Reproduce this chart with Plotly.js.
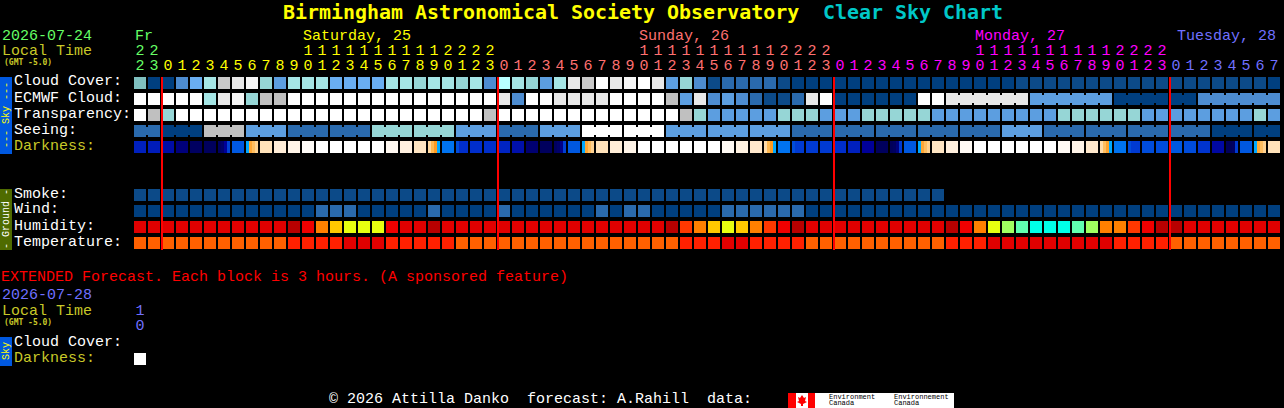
<!DOCTYPE html>
<html><head><meta charset="utf-8">
<script src="https://cdn.plot.ly/plotly-3.0.1.min.js"></script>
<style>html,body{margin:0;padding:0;background:#000;overflow:hidden}</style>
</head><body><div id="chart" style="width:1284px;height:408px"></div>
<script>
const palette = ['#003f7f','#0c4a88','#2a6aad','#4d8cd0','#5c9ee0','#6aaef2','#96d6d6','#7fc0c0','#a5e5e5','#b8ffff',
 '#c0c0c0','#cacaca','#e8e8e8','#f6f6f6','#ffffff','#e00000','#b80000','#f00000','#ff3800','#ff8000',
 '#ffc800','#e8ff10','#a0ff60','#60ffb0','#00ffe8','#ff2000','#ff6000'];

const hours = [22,23,0,1,2,3,4,5,6,7,8,9,10,11,12,13,14,15,16,17,18,19,20,21,22,23,
 0,1,2,3,4,5,6,7,8,9,10,11,12,13,14,15,16,17,18,19,20,21,22,23,
 0,1,2,3,4,5,6,7,8,9,10,11,12,13,14,15,16,17,18,19,20,21,22,23,
 0,1,2,3,4,5,6,7];
const dayOfColumn = [0,0,...Array(24).fill(1),...Array(24).fill(2),...Array(24).fill(3),...Array(8).fill(4)];
const dayColors = ['#66ff66','#ffff00','#ff7070','#ff00ff','#7070ff'];
const dayLabels = [['Fr',134,0],['Saturday, 25',302,1],['Sunday, 26',638,2],['Monday, 27',974,3],['Tuesday, 28',1176,4]];

const cloudCover = [7,0,0,3,5,8,11,12,13,6,4,8,8,8,5,5,5,5,8,8,6,8,8,6,8,3,9,8,6,4,8,12,11,14,12,13,14,12,4,6,3,1,2,2,2,2,1,0,0,0,0,0,
 0,0,0,0,0,0,0,0,0,0,0,1,1,1,1,1,1,1,1,1,1,1,1,1,1,1,1,1,1,0];
const ecmwfCloud = [14,14,14,14,14,8,12,13,6,10,10,14,14,14,14,14,14,14,14,14,14,14,14,14,14,14,12,3,14,14,12,12,12,12,14,14,14,14,10,4,12,3,4,3,2,1,1,2,12,14,0,0,
 0,0,0,0,14,14,12,12,12,12,12,12,4,4,4,4,4,4,0,0,0,0,0,0,3,3,3,3,3,3];
const transparency = [14,10,6,14,14,14,14,14,14,14,14,14,14,14,14,14,14,14,14,14,14,14,14,14,14,10,14,14,14,14,14,14,14,14,14,14,14,14,14,10,6,4,4,4,4,4,6,6,6,4,4,4,
 6,6,6,6,6,4,4,4,4,4,4,4,4,4,6,6,6,6,6,6,4,4,4,4,4,4,4,4,6,4];
const seeing = [2,2,0,0,0,10,10,10,4,4,4,2,2,2,2,2,2,6,6,6,6,6,6,4,4,4,2,2,2,4,4,4,14,14,14,14,14,14,4,4,4,4,4,4,4,4,4,2,2,2,2,2,
 2,2,2,2,2,2,2,2,2,2,4,4,4,2,2,2,2,2,2,2,2,2,2,2,2,0,0,0,0,0];
const smoke = [...Array(58).fill(1)];
const wind = [0,0,0,0,0,0,0,0,0,0,0,0,0,2,2,2,0,0,0,0,0,2,0,0,0,0,2,0,0,0,0,0,0,2,0,2,2,0,0,0,0,0,2,2,2,2,2,2,0,0,0,0,
 0,0,0,0,0,0,0,0,0,0,0,0,0,0,0,0,0,0,0,0,0,0,0,0,0,0,0,0,0,0];
const humidity = [15,15,15,15,15,15,15,15,15,15,15,16,17,19,20,21,21,21,17,15,15,16,15,15,15,15,15,15,15,15,15,15,15,15,15,15,15,15,16,18,19,20,21,20,19,18,17,16,15,15,15,15,
 15,15,15,15,15,15,16,17,19,21,22,23,24,24,24,23,22,19,19,18,17,16,16,15,15,15,15,15,15,15];
const temperature = [26,26,26,26,26,26,26,26,26,26,26,25,25,25,25,15,15,15,25,25,25,25,25,26,26,26,26,26,26,26,26,26,26,26,26,26,26,26,26,25,25,25,15,15,25,25,25,25,26,26,26,26,
 26,26,26,26,26,26,25,25,25,15,15,15,15,15,15,15,15,15,25,25,25,25,26,26,26,26,26,26,26,26];
const extendedDarkness = [14];

// darkness level per column; twilight columns hold four readings left to right
const darkness = [.28,.27,.23,.15,.1,.09,[.1,.12,.2,.34],.38,[.47,.56,.62,.68],.76,.84,.9,.97,1,
 1,1,1,1,.94,.87,.78,[.7,.6,.53,.47],.42,[.36,.31,.31,.31],.31,.31,.29,.24,.13,.09,[.1,.12,.17,.34],.38,[.47,.56,.62,.68],.76,.84,.9,
 1,1,1,1,1,1,.95,.88,.8,[.72,.6,.53,.47],.42,[.36,.33,.33,.33],.33,.33,.31,.28,.2,.09,[.08,.1,.15,.33],.38,[.47,.56,.62,.68],.78,.86,
 .95,1,1,1,1,1,1,.95,.9,.8,[.72,.62,.55,.47],.42,[.36,.33,.33,.33],.36,.36,.38,.36,.32,.22,[.08,.08,.1,.33],.38,[.47,.56,.62,.68],.76];
const darknessScale = [[0,'#000040'],[.1,'#000060'],[.2,'#000098'],[.3,'#0028c8'],[.38,'#0058e0'],[.44,'#0080f8'],[.47,'#00a8ff'],[.5,'#00e0ff'],
 [.505,'#ff9010'],[.6,'#ffb850'],[.7,'#ffd8a0'],[.8,'#ffe8cc'],[.9,'#fff4e8'],[1,'#ffffff']];

const seeingRuns = [[0,1],[2,4],[5,7],[8,10],[11,13],[14,16],[17,19],[20,22],[23,25],[26,28],[29,31],[32,34],[35,37],[38,40],[41,43],[44,46],[47,49],
 [50,52],[53,55],[56,58],[59,61],[62,64],[65,67],[68,70],[71,73],[74,76],[77,79],[80,81]];
const ecmwfRuns = [[58,63],[64,69],[70,73],[74,75],[76,81]];
const midnightColumns = [2,26,50,74];
const skyRows = ['Cloud Cover:','ECMWF Cloud:','Transparency:','Seeing:','Darkness:'];
const groundRows = ['Smoke:','Wind:','Humidity:','Temperature:'];

const W = 1284, H = 408, PITCH_X = 14, PITCH_Y = 16;
const FONT = 'Liberation Mono', FS = 15;
const xOf = px => (px - 140) / PITCH_X, yOf = py => (py - 83) / PITCH_Y;
const columns = hours.map((_, i) => i);
const blank = () => columns.map(() => null);
const fit = a => columns.map(i => a[i] === undefined ? null : a[i]);

const scale = [];
palette.forEach((c, i) => { scale.push([i / palette.length, c], [(i + 1) / palette.length, c]); });
const common = {type:'heatmap', showscale:false, hoverinfo:'skip', colorscale:scale, zmin:-.5, zmax:palette.length-.5, zsmooth:false};

const rows = [fit(cloudCover), fit(ecmwfCloud), fit(transparency), fit(seeing), blank(), blank(), blank(), fit(smoke), fit(wind), fit(humidity), fit(temperature)];
const bridgeRows = rows.map(() => blank());
[[1, ecmwfRuns, ecmwfCloud], [3, seeingRuns, seeing]].forEach(([r, runs, vals]) => runs.forEach(([a, b]) => {
  for (let i = a; i < b; i++) bridgeRows[r][i] = vals[i];
}));

// darkness drawn one pixel column at a time so twilight gradients show
const dx = [], dz = [];
darkness.forEach((v, c) => {
  const s = Array.isArray(v) ? v : [v, v, v, v];
  for (let k = 0; k < PITCH_X; k++) {
    dx.push(c - .5 + (k + .5) / PITCH_X);
    dz.push(k === 0 || k === 13 ? null : s[Math.floor((k - 1) / 3)]);
  }
});

const tensCols = columns.filter(c => hours[c] >= 10);
const traces = [
  {...common, x:columns.map(c => c + .5), y:rows.map((_, i) => i), z:bridgeRows, xgap:0, ygap:8},
  {...common, x:columns, y:rows.map((_, i) => i), z:rows, xgap:2, ygap:4},
  {type:'heatmap', showscale:false, hoverinfo:'skip', x:dx, y:[4], z:[dz], zmin:0, zmax:1, colorscale:darknessScale, ygap:4, zsmooth:false},
  {...common, x:[0], y:[yOf(359)], z:[extendedDarkness], xgap:2, ygap:4},
  {type:'scatter', mode:'text', hoverinfo:'skip', x:columns, y:columns.map(() => yOf(66)), text:hours.map(h => String(h % 10)),
   textfont:{family:FONT, size:FS, color:columns.map(c => dayColors[dayOfColumn[c]])}, textposition:'middle center'},
  {type:'scatter', mode:'text', hoverinfo:'skip', x:tensCols, y:tensCols.map(() => yOf(51)),
   text:tensCols.map(c => String(Math.floor(hours[c] / 10))),
   textfont:{family:FONT, size:FS, color:tensCols.map(c => dayColors[dayOfColumn[c]])}, textposition:'middle center'},
  {type:'scatter', mode:'text', hoverinfo:'skip', x:[0,0], y:[yOf(311),yOf(326)], text:['1','0'],
   textfont:{family:FONT, size:FS, color:'#7070ff'}, textposition:'middle center'}
];

const label = (text, px, py, color, size, extra) => Object.assign({xref:'paper', yref:'paper', x:px / W, y:1 - py / H, text,
  showarrow:false, xanchor:'left', yanchor:'middle', borderpad:0, font:{family:FONT, size:size || FS, color}}, extra || {});
const OLIVE = '#c8c828';
const MONO_BOLD = 'DejaVu Sans Mono';
const heading = (text, px, color) => label('<b>' + text + '</b>', px, 12, color, 19.95, {font:{family:MONO_BOLD, size:19.95, color}});
const tiny = (py) => label('<b>(GMT -5.0)</b>', 3, py, OLIVE, 8, {font:{family:MONO_BOLD, size:8, color:OLIVE}});
const annotations = [
  heading('Birmingham Astronomical Society Observatory', 282, '#ffff00'),
  heading('Clear Sky Chart', 822, '#00c8c8'),
  label('2026-07-24', 1, 36, '#66ff66'),
  label('Local Time', 1, 51, OLIVE),
  tiny(62),
  ...dayLabels.map(([t, px, d]) => label(t, px, 36, dayColors[d])),
  ...skyRows.map((t, i) => label(t, 13, 82 + i * PITCH_Y, t === 'Darkness:' ? OLIVE : '#ffffff')),
  ...groundRows.map((t, i) => label(t, 13, 194 + i * PITCH_Y, '#ffffff')),
  label('EXTENDED Forecast. Each block is 3 hours. (A sponsored feature)', 0, 277, '#ff0000'),
  label('2026-07-28', 1, 295, '#7070ff'),
  label('Local Time', 1, 311, OLIVE),
  tiny(322),
  label('Cloud Cover:', 13, 342, '#ffffff'),
  label('Darkness:', 13, 358, OLIVE),
  label('© 2026 Attilla Danko \u00a0forecast: A.Rahill \u00a0data:', 328, 399.5, '#ffffff'),
  label('--- Sky ---', 6, 115, '#ffff00', 10, {textangle:-90, xanchor:'center'}),
  label('- Ground -', 6, 219, '#ffffff', 10, {textangle:-90, xanchor:'center'}),
  label('Sky', 6, 351, '#ffff00', 10, {textangle:-90, xanchor:'center'}),
  label('Environment', 828, 397, '#000000', 7),
  label('Canada', 828, 403, '#000000', 7),
  label('Environnement', 893, 397, '#000000', 7),
  label('Canada', 893, 403, '#000000', 7)
];
const box = (x0, y0, x1, y1, color) => ({type:'rect', xref:'paper', yref:'paper', x0:x0 / W, x1:x1 / W, y0:1 - y0 / H, y1:1 - y1 / H, fillcolor:color, line:{width:0}, layer:'below'});
const shapes = [
  box(0, 77, 12, 154, '#0058e0'), box(0, 189, 12, 250, '#4f6b00'), box(0, 337, 12, 366, '#0058e0'),
  box(788, 393, 954, 408, '#ffffff'), box(788, 393, 796, 408, '#ff0000'), box(808, 393, 815, 408, '#ff0000'),
  {type:'path', xref:'x', yref:'y', layer:'above', fillcolor:'#ff0000', line:{width:0},
   path:'M'+[[802,395],[804,398],[806,397],[805,401],[807,402],[803,404],[803,406],[801,406],[801,404],[797,402],[799,401],[798,397],[800,398]].map(p => xOf(p[0])+','+yOf(p[1])).join('L')+'Z'},
  ...midnightColumns.map(c => ({type:'line', xref:'x', yref:'y', x0:c - 3 / 7, x1:c - 3 / 7, y0:yOf(77), y1:yOf(250), line:{color:'#ff0000', width:2}, layer:'above'}))
];
Plotly.newPlot('chart', traces, {
  width:W, height:H, margin:{l:0, r:0, t:0, b:0, pad:0}, paper_bgcolor:'#000', plot_bgcolor:'#000', showlegend:false,
  xaxis:{range:[xOf(0), xOf(W)], visible:false, fixedrange:true}, yaxis:{range:[yOf(H), yOf(0)], visible:false, fixedrange:true},
  annotations, shapes
}, {displayModeBar:false, staticPlot:true});
</script></body></html>
